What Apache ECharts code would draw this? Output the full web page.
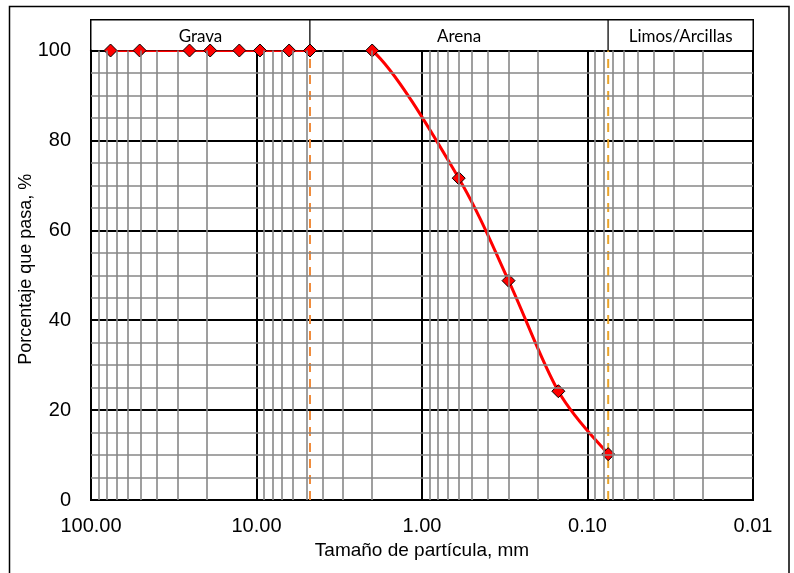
<!DOCTYPE html>
<html>
<head>
<meta charset="utf-8">
<script src="https://cdn.jsdelivr.net/npm/echarts@6/dist/echarts.min.js"></script>
<style>
  html, body { margin: 0; padding: 0; background: #fff; }
  #chart { width: 794px; height: 573px; }
</style>
</head>
<body>
<div id="chart"></div>
<script>
// Sieve opening (mm) and percent passing
const sieveSizes = [76.2, 50.8, 25.4, 19.05, 12.7, 9.53, 6.35, 4.75, 2.00, 0.60, 0.30, 0.15, 0.075];
const percentPassing = [100, 100, 100, 100, 100, 100, 100, 100, 100, 71.6, 48.8, 24.2, 10.2];

// Soil classification bands along the size axis
const zoneNames = ['Grava', 'Arena', 'Limos/Arcillas'];
const zoneBounds = [100, 4.75, 0.075, 0.01];

// Boundary sizes marked with dashed lines
const gravelSandLimit = 4.75;
const sandFinesLimit = 0.075;

// Axis ticks
const yTicks = [0, 20, 40, 60, 80, 100];
const xDecades = [100, 10, 1, 0.1, 0.01];

// Minor grid: 2..9 within every decade, every 5 % on the y axis
const minorX = [];
[10, 1, 0.1, 0.01].forEach(function (d) {
  for (let k = 2; k <= 9; k++) minorX.push(+(d * k).toPrecision(3));
});
const minorY = [];
for (let v = 5; v < 100; v += 5) if (v % 20 !== 0) minorY.push(v);

const points = sieveSizes.map(function (s, i) { return [s, percentPassing[i]]; });

const textFont = 'Liberation Sans, Arial, sans-serif';
const bandFont = 'Lato, Carlito, Calibri, sans-serif';

// Smoothed gradation curve: one cubic Bezier per segment, Catmull-Rom style
// control points computed in pixel space from the axis mapping.
function renderCurveSegment(params, api) {
  const i = params.dataIndex;
  if (i >= points.length - 1) return null;
  const px = function (k) {
    k = Math.max(0, Math.min(points.length - 1, k));
    return api.coord(points[k]);
  };
  const p0 = px(i - 1), p1 = px(i), p2 = px(i + 1), p3 = px(i + 2);
  const t = 1 / 6;
  return {
    type: 'bezierCurve',
    shape: {
      x1: p1[0], y1: p1[1],
      cpx1: p1[0] + (p2[0] - p0[0]) * t, cpy1: p1[1] + (p2[1] - p0[1]) * t,
      cpx2: p2[0] - (p3[0] - p1[0]) * t, cpy2: p2[1] - (p3[1] - p1[1]) * t,
      x2: p2[0], y2: p2[1]
    },
    style: { fill: null, stroke: '#FF0000', lineWidth: 3, lineCap: 'round' },
    silent: true
  };
}

const chart = echarts.init(document.getElementById('chart'), null, { renderer: 'canvas' });

chart.setOption({
  animation: false,
  backgroundColor: '#fff',
  graphic: [{
    type: 'rect',
    shape: { x: 9.5, y: 6.5, width: 779.5, height: 620 },
    style: { fill: null, stroke: '#000', lineWidth: 1.5 },
    silent: true, z: -10
  }],
  grid: [
    { left: 91, right: 41, top: 50.5, bottom: 73, show: true, borderColor: '#000', borderWidth: 2, backgroundColor: '#fff' },
    { left: 91, right: 41, top: 20, height: 30.5, show: true, borderColor: '#000', borderWidth: 2, backgroundColor: '#fff' }
  ],
  xAxis: [
    {
      type: 'log', logBase: 10, min: xDecades[xDecades.length - 1], max: xDecades[0], inverse: true,
      gridIndex: 0, z: 1.5,
      name: 'Tamaño de partícula, mm', nameLocation: 'middle', nameGap: 41, nameMoveOverlap: false,
      nameTextStyle: { fontFamily: textFont, fontSize: 19, color: '#000' },
      axisLine: { show: true, lineStyle: { color: '#000', width: 2 } },
      axisTick: { show: false },
      axisLabel: {
        fontFamily: textFont, fontSize: 20, color: '#000', margin: 16,
        formatter: function (v) { return Number(v).toFixed(2); }
      },
      splitLine: { show: true, lineStyle: { color: '#000', width: 2 } }
    },
    {
      type: 'log', logBase: 10, min: zoneBounds[zoneBounds.length - 1], max: zoneBounds[0], inverse: true,
      gridIndex: 1, show: false
    }
  ],
  yAxis: [
    {
      type: 'value', min: yTicks[0], max: yTicks[yTicks.length - 1], interval: 20,
      gridIndex: 0, z: 1.5,
      name: 'Porcentaje que pasa, %', nameLocation: 'middle', nameGap: 56, nameMoveOverlap: false,
      nameTextStyle: { fontFamily: textFont, fontSize: 18, color: '#000', padding: [0, 0, 0, 12] },
      axisLine: { show: true, lineStyle: { color: '#000', width: 2 } },
      axisTick: { show: false },
      axisLabel: { fontFamily: textFont, fontSize: 20, color: '#000', margin: 20 },
      splitLine: { show: true, lineStyle: { color: '#000', width: 2 } }
    },
    { type: 'value', min: 0, max: 1, gridIndex: 1, show: false }
  ],
  series: [
    {
      // minor grid lines
      type: 'line', xAxisIndex: 0, yAxisIndex: 0, data: [], z: 1, silent: true,
      markLine: {
        silent: true, symbol: 'none', animation: false,
        label: { show: false },
        lineStyle: { color: '#878787', width: 1.6, type: 'solid' },
        data: minorX.map(function (v) { return { xAxis: v }; })
          .concat(minorY.map(function (v) { return { yAxis: v }; }))
      }
    },
    {
      // header bands
      type: 'line', xAxisIndex: 1, yAxisIndex: 1, data: [], z: 1, silent: true,
      markArea: {
        silent: true,
        itemStyle: { color: '#fff', borderColor: '#000', borderWidth: 1 },
        label: { show: true, position: 'inside', color: '#000', fontFamily: bandFont, fontSize: 17, offset: [0, 1] },
        data: zoneNames.map(function (n, i) {
          return [{ name: n, xAxis: zoneBounds[i], yAxis: 0 }, { xAxis: zoneBounds[i + 1], yAxis: 1 }];
        })
      }
    },
    {
      type: 'line', xAxisIndex: 0, yAxisIndex: 0, z: 2.5, silent: true,
      data: [[gravelSandLimit, 0], [gravelSandLimit, 100]],
      symbol: 'none',
      lineStyle: { color: '#F08C3C', width: 2, type: [9, 7] }
    },
    {
      type: 'line', xAxisIndex: 0, yAxisIndex: 0, z: 2.5, silent: true,
      data: [[sandFinesLimit, 0], [sandFinesLimit, 100]],
      symbol: 'none',
      lineStyle: { color: '#E9A42C', width: 2, type: [9, 7] }
    },
    {
      type: 'custom', xAxisIndex: 0, yAxisIndex: 0, z: 3,
      coordinateSystem: 'cartesian2d', clip: true, silent: true,
      data: points,
      renderItem: renderCurveSegment
    },
    {
      type: 'scatter', xAxisIndex: 0, yAxisIndex: 0, z: 4,
      data: points,
      symbol: 'diamond', symbolSize: 13,
      itemStyle: { color: '#FF0000', borderColor: '#000', borderWidth: 1, opacity: 1 }
    }
  ]
});
</script>
</body>
</html>
